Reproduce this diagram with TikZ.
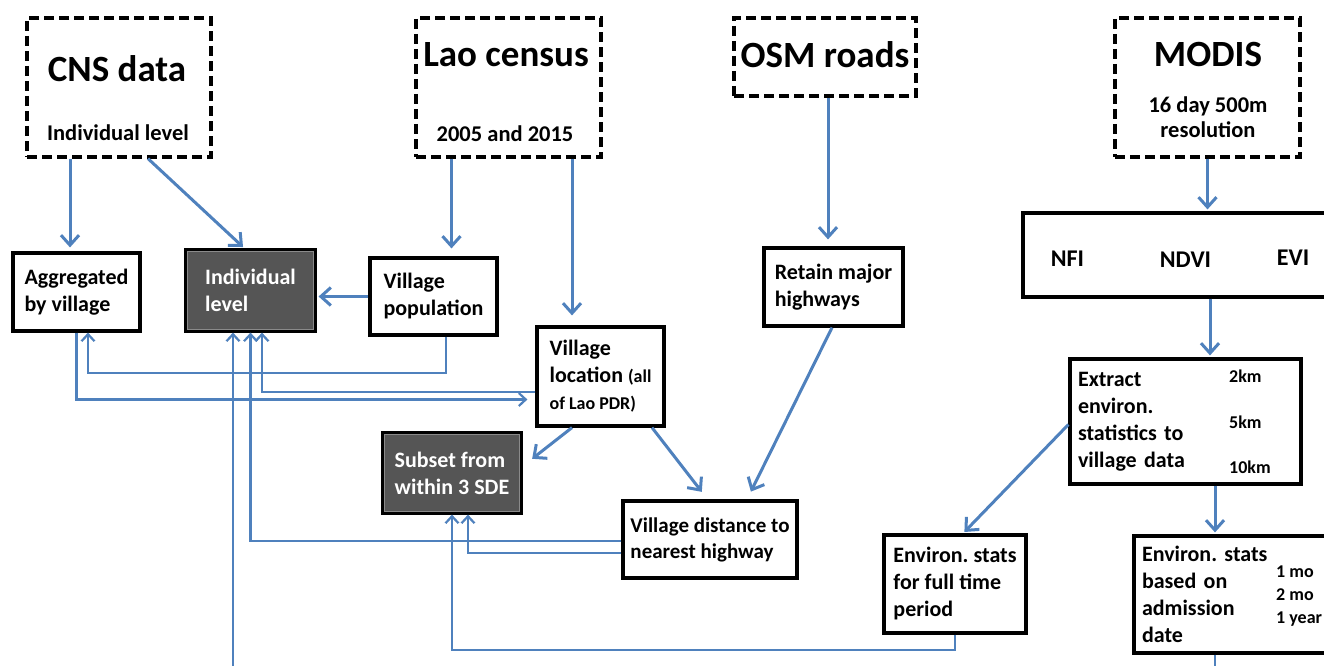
\documentclass[tikz,border=0pt]{standalone}
\usepackage{fontspec}
\setmainfont{Carlito}
\usepackage{tikz}
\usetikzlibrary{arrows.meta}
\frenchspacing

\begin{document}
\begin{tikzpicture}[x=1pt,y=-1pt,
  srcbox/.style={draw=black, line width=3.2pt, dash pattern=on 10pt off 5pt},
  titletext/.style={font=\bfseries\fontsize{37}{40}\selectfont, inner sep=0pt, anchor=base},
  subtext/.style={font=\bfseries\fontsize{22.5}{26}\selectfont, inner sep=0pt, anchor=base},
  procbox/.style={draw=black, line width=3.2pt, align=left, inner sep=0pt,
    font=\bfseries\fontsize{22}{27}\selectfont},
  darkbox/.style={procbox, fill=boxDark, text=white},
  smalltext/.style={font=\bfseries\fontsize{18}{22}\selectfont, inner sep=0pt, anchor=base west},
  bigarrow/.style={draw=lineBlue, line width=3pt, -{Straight Barb[length=10pt,width=18pt]}, shorten >=2pt},
  smallarrow/.style={draw=lineBlue, line width=2.2pt, -{Straight Barb[length=7pt,width=13pt]}},
  smallline/.style={draw=lineBlue, line width=2.2pt}]

% Colori
\definecolor{lineBlue}{HTML}{4F81BD}
\definecolor{boxDark}{HTML}{555555}
\definecolor{boxLine}{HTML}{8A8A8A}

% Area visibile
\useasboundingbox (0,0) rectangle (1324,666);
\clip (0,0) rectangle (1324,666);
\fill[white] (0,0) rectangle (1324,666);

% Sorgenti dati
\node[srcbox, minimum width=184pt, minimum height=139pt] (cns) at (119,87.5) {};
\node[titletext] (cnsT) at (117,82) {CNS data};
\node[subtext] (cnsS) at (118,140) {Individual level};

\node[srcbox, minimum width=185pt, minimum height=139pt] (lao) at (508.5,87.5) {};
\node[titletext] (laoT) at (506,67) {Lao census};
\node[subtext] (laoS) at (505,141) {2005 and 2015};

\node[srcbox, minimum width=182pt, minimum height=78pt] (osm) at (825,57) {};
\node[titletext] (osmT) at (825,68) {OSM roads};

\node[srcbox, minimum width=185pt, minimum height=139pt] (modis) at (1207.5,87.5) {};
\node[titletext] (modisT) at (1208,67) {MODIS};
\node[subtext] (modisS) at (1208,113) {16 day 500m};
\node[subtext] (modisR) at (1208,138) {resolution};

% Elaborazioni
\node[procbox, minimum width=127pt, minimum height=78pt] (agg) at (76.5,292) {Aggregated\\by village};
\node[darkbox, minimum width=129pt, minimum height=81pt] (ind) at (250.5,290.5) {Individual\\level};
\node[procbox, minimum width=127pt, minimum height=77pt] (vpop) at (433.5,296.5) {Village\\population};
\node[procbox, minimum width=127pt, minimum height=99pt] (vloc) at (600.5,376.5)
  {Village\\location {\fontsize{18}{22}\selectfont(all}\\{\fontsize{18}{22}\selectfont of Lao PDR)}};
\node[procbox, minimum width=139pt, minimum height=78pt] (retain) at (833.5,287) {Retain major\\highways};
\node[darkbox, minimum width=138pt, minimum height=80pt] (subset) at (452,473) {Subset from\\within 3 SDE};
\node[procbox, minimum width=174pt, minimum height=77pt, font=\bfseries\fontsize{21}{26}\selectfont] (vdist)
  at (710,539.5) {Village distance to\\nearest highway};

% Bordo interno dei riquadri scuri
\foreach \b in {ind,subset}
  \draw[boxLine, line width=1pt] ([shift={(3.5pt,-3.5pt)}]\b.north west) rectangle ([shift={(-3.5pt,3.5pt)}]\b.south east);

% Indici MODIS
\node[procbox, minimum width=322pt, minimum height=84pt] (nfi) at (1184,255) {};
\node[anchor=base, inner sep=0pt, font=\bfseries\fontsize{24}{28}\selectfont] (nfiA) at (1067.5,266) {NFI};
\node[anchor=base, inner sep=0pt, font=\bfseries\fontsize{24}{28}\selectfont] (nfiB) at (1185.5,267) {NDVI};
\node[anchor=base, inner sep=0pt, font=\bfseries\fontsize{24}{28}\selectfont] (nfiC) at (1293,265) {EVI};

\node[procbox, text width=215pt, inner xsep=8pt, minimum height=125pt] (extract) at (1185.5,421.5)
  {Extract\\environ.\\statistics to\\village data};
\node[smalltext] (km2) at (1229,382) {2km};
\node[smalltext] (km5) at (1229,428) {5km};
\node[smalltext] (km10) at (1229,473) {10km};

\node[procbox, minimum width=142pt, minimum height=98pt] (envfull) at (955,584) {Environ. stats\\for full time\\period};
\node[procbox, text width=199pt, inner xsep=8pt, minimum height=117pt] (envadm) at (1241.5,594.5)
  {Environ. stats\\based on\\admission\\date};
\node[smalltext] (admA) at (1276,577) {1 mo};
\node[smalltext] (admB) at (1276,600) {2 mo};
\node[smalltext] (admC) at (1276,623) {1 year};

% Frecce principali
\draw[bigarrow, shorten >=4pt] ([xshift=-49pt]cns.south) -- ([xshift=-49pt]cns.south |- agg.north);
\draw[bigarrow] ([xshift=29pt]cns.south) -- ([xshift=-6pt]ind.north);
\draw[bigarrow, shorten >=8pt] ([xshift=-57pt]lao.south) -- ([xshift=-57pt]lao.south |- vpop.north);
\draw[bigarrow, shorten >=10pt] ([xshift=63.5pt]lao.south) -- ([xshift=63.5pt]lao.south |- vloc.north);
\draw[bigarrow, shorten >=7pt] ([xshift=3pt]osm.south) -- ([xshift=3pt]osm.south |- retain.north);
\draw[bigarrow] (modis.south) -- (modis.south |- nfi.north);
\draw[bigarrow] ([xshift=26pt]nfi.south) -- ([xshift=26pt]nfi.south |- extract.north);
\draw[bigarrow] ([yshift=-3pt]extract.west) -- ([xshift=8pt]envfull.north);
\draw[bigarrow] ([xshift=29.5pt]extract.south) -- ([xshift=29.5pt]extract.south |- envadm.north);
\draw[bigarrow] (vpop.west) -- (vpop.west -| ind.east);
\draw[bigarrow] ([xshift=-28.5pt]vloc.south) -- ([xshift=8pt,yshift=13pt]subset.east);
\draw[bigarrow] ([xshift=51.5pt]vloc.south) -- ([xshift=-7pt,yshift=6pt]vdist.north);
\draw[bigarrow] ([xshift=-1.5pt]retain.south) -- ([xshift=40pt,yshift=6pt]vdist.north);

% Collegamenti di ritorno
\draw[smallarrow] ([xshift=12.5pt]vpop.south) -- ++(0,36) -| ([xshift=11.5pt]agg.south);
\draw[smallarrow, shorten >=8pt] (agg.south) |- ([yshift=-23pt]vloc.west);
\draw[smallarrow] ([yshift=-15.5pt]vloc.west) -| ([xshift=11.5pt]ind.south);
\draw[smallarrow] ([yshift=-1.5pt]vdist.west) -| (ind.south);
\draw[smallarrow] ([yshift=-13.5pt]vdist.west) -| ([xshift=16pt]subset.south);
\draw[smallarrow] (envfull.south) -- ++(0,15) -| (subset.south);
\coordinate (indIn) at (233,672);
\draw[smallarrow] (indIn) -- (indIn |- ind.south);
\coordinate (admOut) at (1215,672);
\draw[smallline] (admOut |- envadm.south) -- (admOut);

\end{tikzpicture}
\end{document}
